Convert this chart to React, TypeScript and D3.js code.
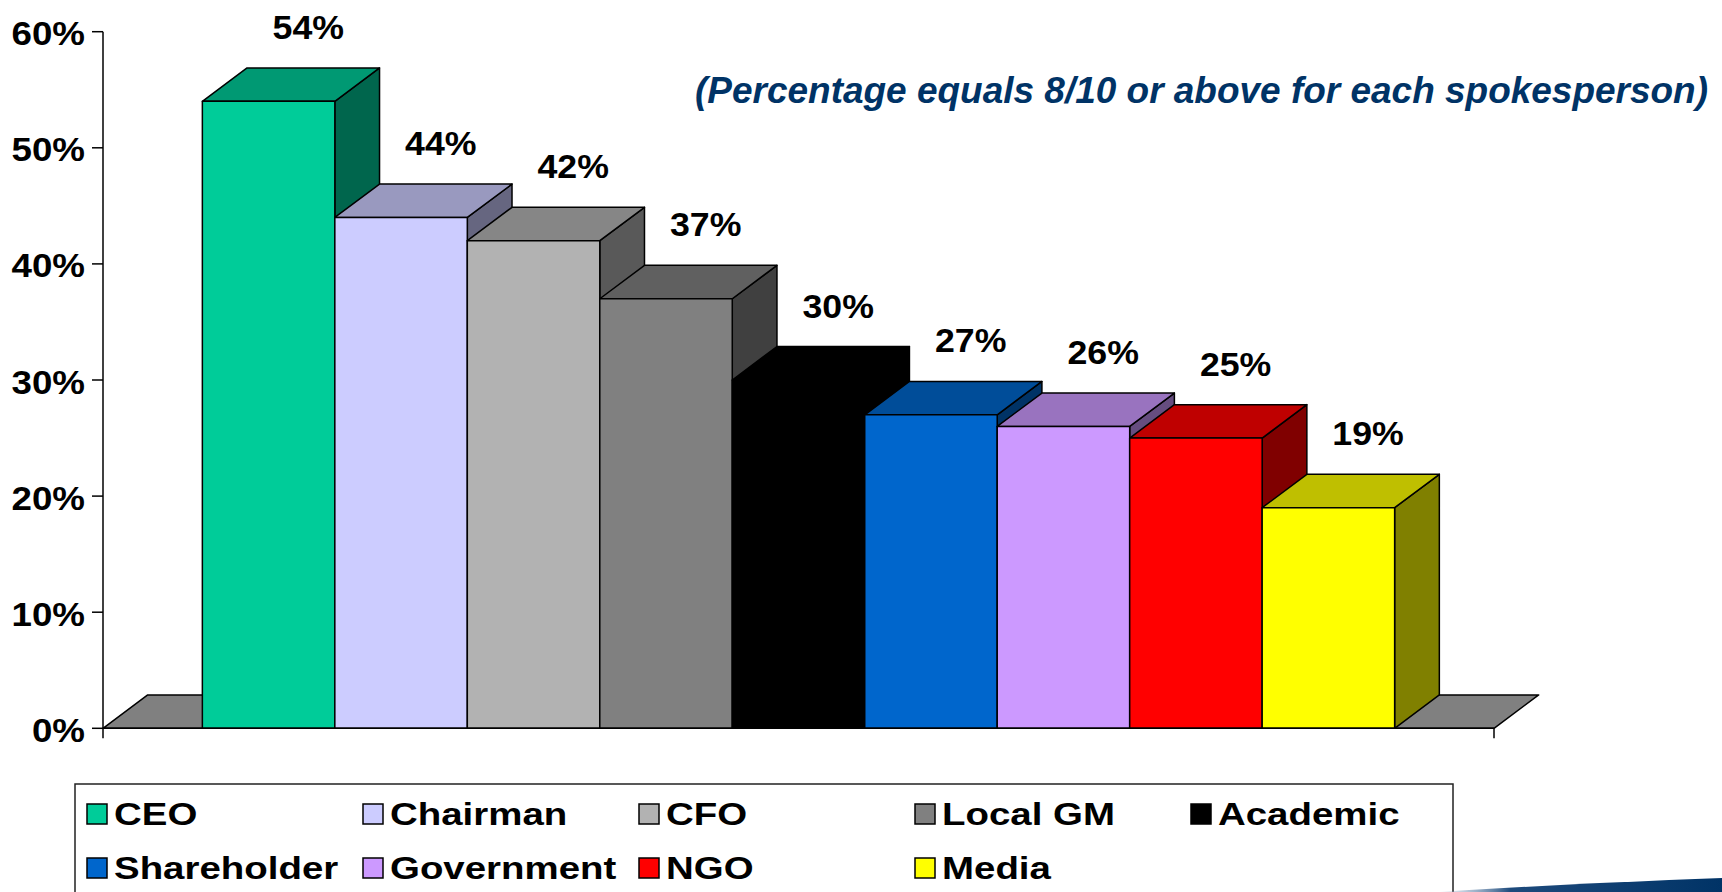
import React from "react";
import * as d3 from "d3";

// spokesperson ratings, % scoring 8/10 or above
const categories: string[] = ["CEO", "Chairman", "CFO", "Local GM", "Academic", "Shareholder", "Government", "NGO", "Media"];
const values: number[]     = [54, 44, 42, 37, 30, 27, 26, 25, 19];
const colors: string[]     = ["#00CC99", "#CCCCFF", "#B2B2B2", "#808080", "#000000", "#0066CC", "#CC99FF", "#FF0000", "#FFFF00"];
const yTicks: number[]     = [0, 10, 20, 30, 40, 50, 60];
const subtitle: string     = "(Percentage equals 8/10 or above for each spokesperson)";

const WIDTH  = 1722;
const HEIGHT = 892;
const FONT   = "'Liberation Sans', Arial, Helvetica, sans-serif";

const plot  = { left: 103, right: 1494, top: 31.7, bottom: 728.3 };
const depth = { dx: 44.7, dy: 33.4 };
const legend = { left: 75, top: 784, right: 1453, x0: 87, y0: 804, colStep: 276, rowStep: 54, cols: 5, swatch: 20 };

/** multiply a colour's channels, like the 3D shading of the top and side faces */
function shade(c: string, k: number): string {
    const r = d3.rgb(c);
    return d3.rgb(r.r * k, r.g * k, r.b * k).formatHex();
}

const pts = (p: [number, number][]): string => p.map(q => q.join(",")).join(" ");

export default function App(): JSX.Element {
    const x = d3.scaleBand<string>()
        .domain(categories)
        .range([plot.left, plot.right])
        .paddingInner(0)
        .paddingOuter(0.75);
    const y = d3.scaleLinear().domain([0, 60]).range([plot.bottom, plot.top]);

    const y0: number = y(0);
    const bw: number = x.bandwidth();
    const { dx, dy } = depth;
    const stroke = { stroke: "#000", strokeWidth: 1.5, strokeLinejoin: "round" as const };

    return <svg
        width={WIDTH}
        height={HEIGHT}
        style={{ position: "absolute", left: 0, top: 0, display: "block", background: "#fff" }}
        fontFamily={FONT}
    >
        <defs>
            <linearGradient id="swoosh" x1="0" x2="1" y1="0" y2="0">
                <stop offset="0" stopColor="#9fb6d0" stopOpacity="0.2" />
                <stop offset="0.25" stopColor="#1d4a7c" />
                <stop offset="1" stopColor="#003366" />
            </linearGradient>
        </defs>

        {/* floor */}
        <polygon
            points={pts([[plot.left, y0], [plot.right, y0], [plot.right + dx, y0 - dy], [plot.left + dx, y0 - dy]])}
            fill="#808080"
            {...stroke}
        />

        {/* bars, left to right so each top face overlaps the previous side face */}
        {categories.map((c, i) => {
            const x0: number = x(c)!;
            const x1: number = x0 + bw;
            const yv: number = y(values[i]!);
            const col: string = colors[i]!;
            return <g key={c}>
                <polygon points={pts([[x1, yv], [x1 + dx, yv - dy], [x1 + dx, y0 - dy], [x1, y0]])} fill={shade(col, 0.5)} {...stroke} />
                <polygon points={pts([[x0, yv], [x0 + dx, yv - dy], [x1 + dx, yv - dy], [x1, yv]])} fill={shade(col, 0.75)} {...stroke} />
                <rect x={x0} y={yv} width={bw} height={y0 - yv} fill={col} {...stroke} />
            </g>
        })}

        {/* axes */}
        <line x1={plot.left} x2={plot.left} y1={y(60)} y2={y0 + 10} {...stroke} />
        <line x1={plot.left} x2={plot.right} y1={y0} y2={y0} {...stroke} />
        <line x1={plot.right} x2={plot.right} y1={y0} y2={y0 + 10} {...stroke} />
        {yTicks.map(t => <g key={t}>
            <line x1={plot.left - 11} x2={plot.left} y1={y(t)} y2={y(t)} {...stroke} />
            <text
                transform={`translate(85,${y(t) + 13.5}) scale(1.08,1)`}
                textAnchor="end"
                fontSize={34}
                fontWeight="bold"
                fill="#000"
            >{`${t}%`}</text>
        </g>)}

        {/* value labels */}
        {categories.map((c, i) => <text
            key={c}
            transform={`translate(${x(c)! + bw / 2 + dx - 5},${y(values[i]!) - dy - 29}) scale(1.05,1)`}
            textAnchor="middle"
            fontSize={34}
            fontWeight="bold"
            fill="#000"
        >{`${values[i]}%`}</text>)}

        <text
            x={695}
            y={103.3}
            textLength={1013}
            lengthAdjust="spacingAndGlyphs"
            fontSize={37}
            fontWeight="bold"
            fontStyle="italic"
            fill="#003366"
        >{subtitle}</text>

        {/* legend */}
        <rect x={legend.left} y={legend.top} width={legend.right - legend.left} height={HEIGHT - legend.top + 20} fill="#fff" stroke="#222" strokeWidth={1.5} />
        {categories.map((c, i) => {
            const lx: number = legend.x0 + (i % legend.cols) * legend.colStep;
            const ly: number = legend.y0 + Math.floor(i / legend.cols) * legend.rowStep;
            return <g key={c}>
                <rect x={lx} y={ly} width={legend.swatch} height={legend.swatch} fill={colors[i]} stroke="#000" strokeWidth={1.5} />
                <text
                    transform={`translate(${lx + 27},${ly + 21}) scale(1.24,1)`}
                    fontSize={31}
                    fontWeight="bold"
                    fill="#000"
                >{c}</text>
            </g>
        })}

        {/* decorative swoosh, bottom right */}
        <path d="M1440,892 Q1560,884 1722,878 L1722,892 Z" fill="url(#swoosh)" />
    </svg>
}
